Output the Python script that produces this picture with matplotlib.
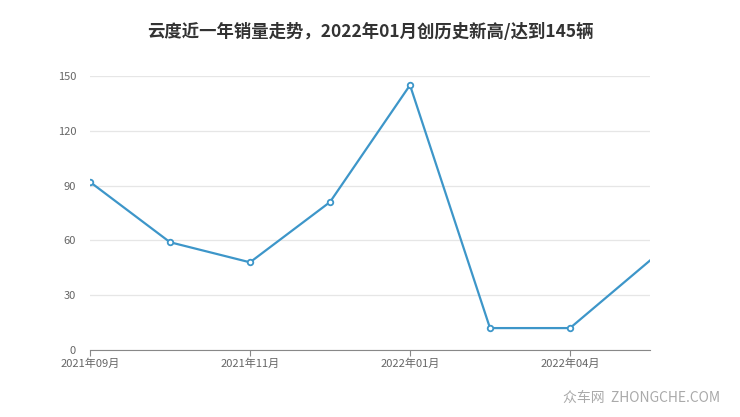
import matplotlib
matplotlib.use("Agg")
import matplotlib.pyplot as plt

plt.rcParams['font.family'] = ['Noto Sans CJK SC', 'DejaVu Sans']

# monthly sales
months = ['2021年09月', '2021年10月', '2021年11月', '2021年12月',
          '2022年01月', '2022年03月', '2022年04月', '2022年05月']
sales = [92, 59, 48, 81, 145, 12, 12, 49]
yticks = [0, 30, 60, 90, 120, 150]
shown = [0, 2, 4, 6]   # which month labels get a tick

fig = plt.figure(figsize=(7.4, 4.17), dpi=100)
ax = fig.add_axes([90/740, 67/417, 560/740, 274/417])

x = list(range(len(months)))
# last point sits on the plot edge, no marker there in the original
ax.plot(x, sales, color='#3d96c9', lw=1.6, marker='o', ms=4,
        mfc='white', mec='#3d96c9', mew=1.3, markevery=x[:-1], zorder=3)

ax.set_xlim(0, len(months) - 1)
ax.set_ylim(0, 150)
ax.set_yticks(yticks)
ax.set_xticks([x[i] for i in shown])
ax.set_xticklabels([months[i] for i in shown])

ax.grid(axis='y', color='#e6e6e6', lw=0.9)
ax.set_axisbelow(True)
for s in ['top', 'right', 'left']:
    ax.spines[s].set_visible(False)
ax.spines['bottom'].set_color('#888888')
ax.tick_params(axis='y', length=0, pad=10, labelsize=8, labelcolor='#666666')
ax.tick_params(axis='x', length=4, color='#888888', pad=2, labelsize=8,
               labelcolor='#666666')

fig.text(0.5, 1 - 32/417, '云度近一年销量走势，2022年01月创历史新高/达到145辆',
         ha='center', va='center', fontsize=12.5, fontweight='bold', color='#333333')
fig.text(720/740, 1 - 398/417, '众车网  ZHONGCHE.COM', ha='right', va='center',
         fontsize=10, color='#aaaaaa')

fig.savefig('out.png', dpi=100)
